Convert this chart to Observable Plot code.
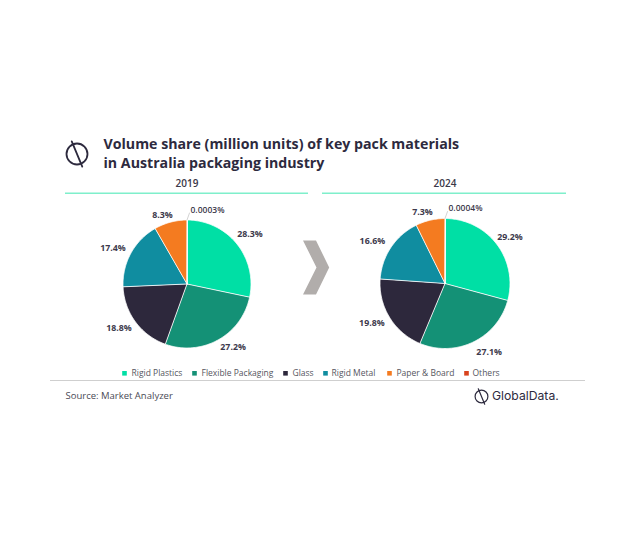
<!DOCTYPE html>
<html><head><meta charset="utf-8">
<script src="https://cdn.jsdelivr.net/npm/d3@7"></script>
<script src="https://cdn.jsdelivr.net/npm/@observablehq/plot@0.6"></script>
<style>html,body{margin:0;padding:0;background:#fff}svg{display:block}</style>
</head><body><div id="chart"></div>
<script>
const categories = ["Rigid Plastics","Flexible Packaging","Glass","Rigid Metal","Paper & Board","Others"];
const colors = ["#00DFA5","#149176","#2D283C","#108DA0","#F47B20","#D9441E"];
const years = ["2019","2024"];
const values2019 = [28.3,27.2,18.8,17.4,8.3,0.0003];
const values2024 = [29.2,27.1,19.8,16.6,7.3,0.0004];
const labels2019 = ["28.3%","27.2%","18.8%","17.4%","8.3%","0.0003%"];
const labels2024 = ["29.2%","27.1%","19.8%","16.6%","7.3%","0.0004%"];
const titleLines = ["Volume share (million units) of key pack materials","in Australia packaging industry"];
const sourceText = "Source: Market Analyzer";
const brandText = "GlobalData.";

const INK = "#2D2A3E", FONT = "'Open Sans', sans-serif";
const layout = {
  pies: [{cx:186.5,cy:283.5,r:64,ruleX:[65,308],nudge:[[-5,-4],[-1,0],[2,1],[1,-1],[6,1]]},
         {cx:444.5,cy:283,r:65,ruleX:[322,566],nudge:[[-5,-2],[0,3],[1,1],[0,-2],[6,0]]}],
  legendX: [[124,131],[194,201],[285,292],[325,331],[389,396],[466,472]]
};
const series = [values2019, values2024], labels = [labels2019, labels2024];

const wedges = [], labelRows = [], leaders = [];
series.forEach((vals, p) => {
  const {cx, cy, r, nudge} = layout.pies[p];
  d3.pie().sort(null)(vals).forEach((a, i) => {
    const pts = [[cx, cy]];
    const n = Math.max(1, Math.ceil((a.endAngle - a.startAngle) / 0.02));
    for (let k = 0; k <= n; k++) {
      const t = a.startAngle + (a.endAngle - a.startAngle) * k / n;
      pts.push([cx + r * Math.sin(t), cy - r * Math.cos(t)]);
    }
    pts.forEach(q => wedges.push({x:q[0], y:q[1], id:p + "-" + i, cat:categories[i]}));
    const m = (a.startAngle + a.endAngle) / 2, s = Math.sin(m), c = Math.cos(m);
    if (i === categories.length - 1) {
      labelRows.push({x:cx + 3.5, y:cy - r - 10, text:labels[p][i], anchor:"start"});
      leaders.push({x:cx, y:cy - r, id:p}, {x:cx + 2.5, y:cy - r - 7, id:p});
    } else {
      labelRows.push({x:cx + (r + 8) * s + 12 * Math.sign(s) + nudge[i][0], y:cy - (r + 8) * c + nudge[i][1], text:labels[p][i], anchor:"middle"});
    }
  });
});

const legend = categories.map((name, i) => ({name, color:colors[i], sx:layout.legendX[i][0], tx:layout.legendX[i][1]}));
const rules = layout.pies.map((d, i) => ({x1:d.ruleX[0], x2:d.ruleX[1], year:years[i], cx:d.cx}));
const chevron = [[302.5,240],[315.5,240],[328.7,267],[315.5,294],[302.5,294],[316,267]].map(([x,y]) => ({x,y}));

const logo = (x, y, r, sw) => [
  Plot.dot([{x,y}], {x:"x", y:"y", r, stroke:INK, strokeWidth:sw, fill:"none"}),
  Plot.line([{x:x - r * 0.5, y:y - r * 1.2},{x:x + r * 0.5, y:y + r * 1.2}], {x:"x", y:"y", stroke:INK, strokeWidth:sw})
];

const chart = Plot.plot({
  width:630, height:533, margin:0,
  x:{domain:[0,630], range:[0,630], axis:null},
  y:{domain:[0,533], range:[0,533], axis:null},
  color:{domain:categories, range:colors},
  style:{background:"#fff", fontFamily:FONT},
  marks:[
    ...logo(76.5,153.5,10.5,1.8),
    Plot.text(titleLines, {x:103, y:(d,i)=>144 + i*19.2, text:d=>d, textAnchor:"start", lineAnchor:"middle", fontSize:14.2, fontWeight:700, fill:INK}),
    Plot.ruleY(rules, {x1:"x1", x2:"x2", y:192.7, stroke:"#7FEFCB", strokeWidth:1.6}),
    Plot.text(rules, {x:"cx", y:183.5, text:"year", fontSize:10, fontWeight:600, fill:"#3a3848"}),
    Plot.line(chevron, {x:"x", y:"y", fill:"#B1ADAB", stroke:"none", curve:"linear-closed"}),
    Plot.line(wedges, {x:"x", y:"y", z:"id", fill:"cat", stroke:"#fff", strokeWidth:0.8, curve:"linear-closed"}),
    Plot.line(leaders, {x:"x", y:"y", z:"id", stroke:"#c8c8c8", strokeWidth:0.8}),
    Plot.text(labelRows.filter(d=>d.anchor==="middle"), {x:"x", y:"y", text:"text", fontSize:8.8, fontWeight:700, fill:"#3D3A4C"}),
    Plot.text(labelRows.filter(d=>d.anchor==="start"), {x:"x", y:"y", text:"text", textAnchor:"start", fontSize:8.5, fontWeight:600, fill:"#3D3A4C"}),
    Plot.dot(legend, {x:"sx", y:372.8, symbol:"square", r:2.6, fill:"color"}),
    Plot.text(legend, {x:"tx", y:372.8, text:"name", textAnchor:"start", fontSize:8.5, fill:"#555560"}),
    Plot.ruleY([380], {x1:50, x2:585, stroke:"#cfcfcf", strokeWidth:1}),
    Plot.text([sourceText], {x:65, y:395.5, text:d=>d, textAnchor:"start", fontSize:9.5, fill:"#4a4a55"}),
    ...logo(481,396,6.4,1.2),
    Plot.text([brandText], {x:491.5, y:396, text:d=>d, textAnchor:"start", fontSize:12.2, fontFamily:"Inter, sans-serif", fill:INK})
  ]
});
document.getElementById("chart").append(chart);
</script></body></html>
